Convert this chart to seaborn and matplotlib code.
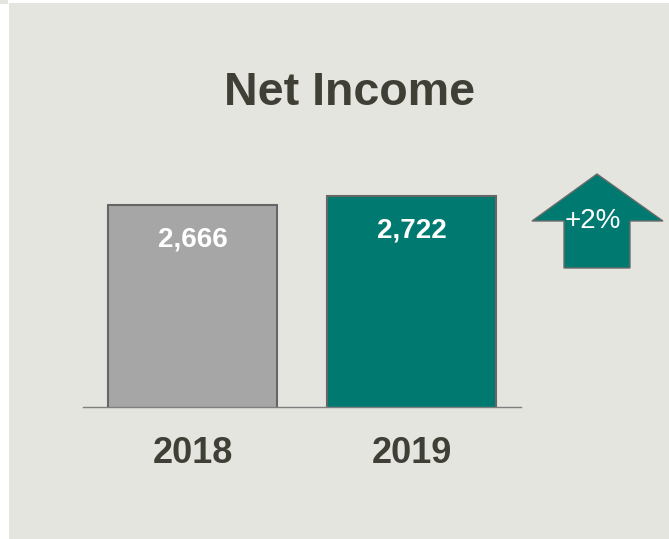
import matplotlib
matplotlib.use("Agg")
import matplotlib.pyplot as plt
import seaborn as sns
from matplotlib.patches import Polygon, Rectangle

# Net income by year
years = ["2018", "2019"]
net_income = [2666, 2722]
bar_colors = ["#a6a6a6", "#007a70"]
title = "Net Income"

W, H = 669, 539
sns.set_theme(style="white")
plt.rcParams["font.family"] = ["Liberation Sans", "DejaVu Sans"]

fig = plt.figure(figsize=(W / 100, H / 100), dpi=100, facecolor="white")

def fx(px):
    return px / W

def fy(py):
    return 1 - py / H

# panel background
fig.patches.append(Rectangle((fx(9), 0), 1 - fx(9), fy(3), transform=fig.transFigure,
                             facecolor="#e5e5df", edgecolor="none", zorder=-10))
fig.patches.append(Rectangle((0, fy(4)), fx(8), 1 - fy(4), transform=fig.transFigure,
                             facecolor="#e5e5df", edgecolor="none", zorder=-10))

ax = fig.add_axes([fx(83), fy(407), fx(521) - fx(83), fy(150) - fy(407)])
ax.set_facecolor("none")
ax.set_zorder(1)

sns.barplot(x=years, y=net_income, hue=years, palette=bar_colors, legend=False,
            saturation=1, width=0.772, edgecolor="#666666", linewidth=1.5,
            ax=ax, zorder=2)

ax.set_xlim(-0.5, 1.5)
ax.set_ylim(1410, 3010)
ax.set_yticks([])
ax.set_xlabel("")
ax.set_ylabel("")
for s in ["top", "left", "right"]:
    ax.spines[s].set_visible(False)
ax.spines["bottom"].set_color("#7f7f7f")
ax.spines["bottom"].set_linewidth(1.0)
ax.spines["bottom"].set_zorder(3)
ax.tick_params(axis="x", length=0, pad=21, labelsize=26, labelcolor="#3f3f35")
for lab in ax.get_xticklabels():
    lab.set_fontweight("bold")

for i, v in enumerate(net_income):
    ax.annotate(f"{v:,}", xy=(i, v), xytext=(0, -29.5), textcoords="offset points",
                ha="center", va="baseline", color="white", fontsize=20,
                fontweight="bold", zorder=4)

fig.text(fx(350), fy(105), title, ha="center", va="baseline", fontsize=33.5,
         fontweight="bold", color="#3f3f35")

# growth arrow
arrow_px = [(597, 174), (663, 221), (630, 221), (630, 268),
            (564, 268), (564, 221), (532, 221)]
fig.patches.append(Polygon([(fx(x), fy(y)) for x, y in arrow_px], closed=True,
                           transform=fig.transFigure, facecolor="#007a70",
                           edgecolor="#6b6b6b", linewidth=1.0, zorder=2))
growth = (net_income[1] / net_income[0] - 1) * 100
fig.text(fx(593), fy(228), f"+{growth:.0f}%", ha="center", va="baseline",
         fontsize=20, color="white", zorder=3)

fig.savefig("out.png", dpi=100, facecolor=fig.get_facecolor())
